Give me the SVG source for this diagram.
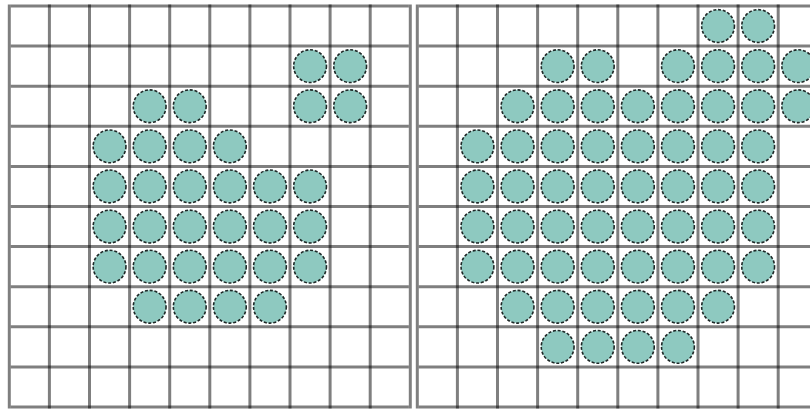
<svg xmlns="http://www.w3.org/2000/svg" xmlns:xlink="http://www.w3.org/1999/xlink" width="810" height="409" viewBox="0 0 810 409">
<style>
.dot{fill:#8ec9c0;stroke:#1e2827;stroke-width:1.6;stroke-dasharray:3 1.8}
.gl{stroke:#000;stroke-opacity:0.5;stroke-width:3;fill:none}
</style>
<defs>
<circle id="d" class="dot" cx="0" cy="0" r="16.4"/>
</defs>
<rect width="810" height="409" fill="#fff"/>
<g id="left-grid" transform="translate(9.3,6)">
<g id="left-dots">
<use xlink:href="#d" x="300.75" y="60.15"/><use xlink:href="#d" x="340.85" y="60.15"/>
<use xlink:href="#d" x="140.35" y="100.25"/><use xlink:href="#d" x="180.45" y="100.25"/><use xlink:href="#d" x="300.75" y="100.25"/><use xlink:href="#d" x="340.85" y="100.25"/>
<use xlink:href="#d" x="100.25" y="140.35"/><use xlink:href="#d" x="140.35" y="140.35"/><use xlink:href="#d" x="180.45" y="140.35"/><use xlink:href="#d" x="220.55" y="140.35"/>
<use xlink:href="#d" x="100.25" y="180.45"/><use xlink:href="#d" x="140.35" y="180.45"/><use xlink:href="#d" x="180.45" y="180.45"/><use xlink:href="#d" x="220.55" y="180.45"/><use xlink:href="#d" x="260.65" y="180.45"/><use xlink:href="#d" x="300.75" y="180.45"/>
<use xlink:href="#d" x="100.25" y="220.55"/><use xlink:href="#d" x="140.35" y="220.55"/><use xlink:href="#d" x="180.45" y="220.55"/><use xlink:href="#d" x="220.55" y="220.55"/><use xlink:href="#d" x="260.65" y="220.55"/><use xlink:href="#d" x="300.75" y="220.55"/>
<use xlink:href="#d" x="100.25" y="260.65"/><use xlink:href="#d" x="140.35" y="260.65"/><use xlink:href="#d" x="180.45" y="260.65"/><use xlink:href="#d" x="220.55" y="260.65"/><use xlink:href="#d" x="260.65" y="260.65"/><use xlink:href="#d" x="300.75" y="260.65"/>
<use xlink:href="#d" x="140.35" y="300.75"/><use xlink:href="#d" x="180.45" y="300.75"/><use xlink:href="#d" x="220.55" y="300.75"/><use xlink:href="#d" x="260.65" y="300.75"/>
</g>
<g id="left-lines">
<line class="gl" x1="0" y1="-1.5" x2="0" y2="402.5"/><line class="gl" x1="40.1" y1="-1.5" x2="40.1" y2="402.5"/><line class="gl" x1="80.2" y1="-1.5" x2="80.2" y2="402.5"/><line class="gl" x1="120.3" y1="-1.5" x2="120.3" y2="402.5"/><line class="gl" x1="160.4" y1="-1.5" x2="160.4" y2="402.5"/><line class="gl" x1="200.5" y1="-1.5" x2="200.5" y2="402.5"/><line class="gl" x1="240.6" y1="-1.5" x2="240.6" y2="402.5"/><line class="gl" x1="280.7" y1="-1.5" x2="280.7" y2="402.5"/><line class="gl" x1="320.8" y1="-1.5" x2="320.8" y2="402.5"/><line class="gl" x1="360.9" y1="-1.5" x2="360.9" y2="402.5"/><line class="gl" x1="401" y1="-1.5" x2="401" y2="402.5"/>
<line class="gl" x1="1.5" y1="0" x2="399.5" y2="0"/><line class="gl" x1="1.5" y1="40.1" x2="399.5" y2="40.1"/><line class="gl" x1="1.5" y1="80.2" x2="399.5" y2="80.2"/><line class="gl" x1="1.5" y1="120.3" x2="399.5" y2="120.3"/><line class="gl" x1="1.5" y1="160.4" x2="399.5" y2="160.4"/><line class="gl" x1="1.5" y1="200.5" x2="399.5" y2="200.5"/><line class="gl" x1="1.5" y1="240.6" x2="399.5" y2="240.6"/><line class="gl" x1="1.5" y1="280.7" x2="399.5" y2="280.7"/><line class="gl" x1="1.5" y1="320.8" x2="399.5" y2="320.8"/><line class="gl" x1="1.5" y1="360.9" x2="399.5" y2="360.9"/><line class="gl" x1="1.5" y1="401" x2="399.5" y2="401"/>
</g>
</g>
<g id="right-grid" transform="translate(417.3,6)">
<g id="right-dots">
<use xlink:href="#d" x="300.75" y="20.05"/><use xlink:href="#d" x="340.85" y="20.05"/>
<use xlink:href="#d" x="140.35" y="60.15"/><use xlink:href="#d" x="180.45" y="60.15"/><use xlink:href="#d" x="260.65" y="60.15"/><use xlink:href="#d" x="300.75" y="60.15"/><use xlink:href="#d" x="340.85" y="60.15"/><use xlink:href="#d" x="380.95" y="60.15"/>
<use xlink:href="#d" x="100.25" y="100.25"/><use xlink:href="#d" x="140.35" y="100.25"/><use xlink:href="#d" x="180.45" y="100.25"/><use xlink:href="#d" x="220.55" y="100.25"/><use xlink:href="#d" x="260.65" y="100.25"/><use xlink:href="#d" x="300.75" y="100.25"/><use xlink:href="#d" x="340.85" y="100.25"/><use xlink:href="#d" x="380.95" y="100.25"/>
<use xlink:href="#d" x="60.15" y="140.35"/><use xlink:href="#d" x="100.25" y="140.35"/><use xlink:href="#d" x="140.35" y="140.35"/><use xlink:href="#d" x="180.45" y="140.35"/><use xlink:href="#d" x="220.55" y="140.35"/><use xlink:href="#d" x="260.65" y="140.35"/><use xlink:href="#d" x="300.75" y="140.35"/><use xlink:href="#d" x="340.85" y="140.35"/>
<use xlink:href="#d" x="60.15" y="180.45"/><use xlink:href="#d" x="100.25" y="180.45"/><use xlink:href="#d" x="140.35" y="180.45"/><use xlink:href="#d" x="180.45" y="180.45"/><use xlink:href="#d" x="220.55" y="180.45"/><use xlink:href="#d" x="260.65" y="180.45"/><use xlink:href="#d" x="300.75" y="180.45"/><use xlink:href="#d" x="340.85" y="180.45"/>
<use xlink:href="#d" x="60.15" y="220.55"/><use xlink:href="#d" x="100.25" y="220.55"/><use xlink:href="#d" x="140.35" y="220.55"/><use xlink:href="#d" x="180.45" y="220.55"/><use xlink:href="#d" x="220.55" y="220.55"/><use xlink:href="#d" x="260.65" y="220.55"/><use xlink:href="#d" x="300.75" y="220.55"/><use xlink:href="#d" x="340.85" y="220.55"/>
<use xlink:href="#d" x="60.15" y="260.65"/><use xlink:href="#d" x="100.25" y="260.65"/><use xlink:href="#d" x="140.35" y="260.65"/><use xlink:href="#d" x="180.45" y="260.65"/><use xlink:href="#d" x="220.55" y="260.65"/><use xlink:href="#d" x="260.65" y="260.65"/><use xlink:href="#d" x="300.75" y="260.65"/><use xlink:href="#d" x="340.85" y="260.65"/>
<use xlink:href="#d" x="100.25" y="300.75"/><use xlink:href="#d" x="140.35" y="300.75"/><use xlink:href="#d" x="180.45" y="300.75"/><use xlink:href="#d" x="220.55" y="300.75"/><use xlink:href="#d" x="260.65" y="300.75"/><use xlink:href="#d" x="300.75" y="300.75"/>
<use xlink:href="#d" x="140.35" y="340.85"/><use xlink:href="#d" x="180.45" y="340.85"/><use xlink:href="#d" x="220.55" y="340.85"/><use xlink:href="#d" x="260.65" y="340.85"/>
</g>
<g id="right-lines">
<line class="gl" x1="0" y1="-1.5" x2="0" y2="402.5"/><line class="gl" x1="40.1" y1="-1.5" x2="40.1" y2="402.5"/><line class="gl" x1="80.2" y1="-1.5" x2="80.2" y2="402.5"/><line class="gl" x1="120.3" y1="-1.5" x2="120.3" y2="402.5"/><line class="gl" x1="160.4" y1="-1.5" x2="160.4" y2="402.5"/><line class="gl" x1="200.5" y1="-1.5" x2="200.5" y2="402.5"/><line class="gl" x1="240.6" y1="-1.5" x2="240.6" y2="402.5"/><line class="gl" x1="280.7" y1="-1.5" x2="280.7" y2="402.5"/><line class="gl" x1="320.8" y1="-1.5" x2="320.8" y2="402.5"/><line class="gl" x1="360.9" y1="-1.5" x2="360.9" y2="402.5"/><line class="gl" x1="401" y1="-1.5" x2="401" y2="402.5"/>
<line class="gl" x1="1.5" y1="0" x2="399.5" y2="0"/><line class="gl" x1="1.5" y1="40.1" x2="399.5" y2="40.1"/><line class="gl" x1="1.5" y1="80.2" x2="399.5" y2="80.2"/><line class="gl" x1="1.5" y1="120.3" x2="399.5" y2="120.3"/><line class="gl" x1="1.5" y1="160.4" x2="399.5" y2="160.4"/><line class="gl" x1="1.5" y1="200.5" x2="399.5" y2="200.5"/><line class="gl" x1="1.5" y1="240.6" x2="399.5" y2="240.6"/><line class="gl" x1="1.5" y1="280.7" x2="399.5" y2="280.7"/><line class="gl" x1="1.5" y1="320.8" x2="399.5" y2="320.8"/><line class="gl" x1="1.5" y1="360.9" x2="399.5" y2="360.9"/><line class="gl" x1="1.5" y1="401" x2="399.5" y2="401"/>
</g>
</g>
</svg>
